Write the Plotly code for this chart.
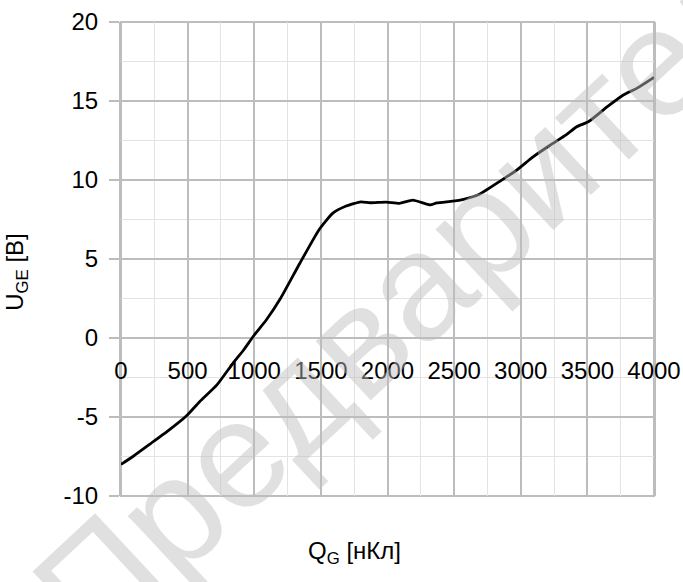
import plotly.graph_objects as go

# Gate charge curve Q_G [nC] -> U_GE [V]
charge_nc = [0, 90, 220, 345, 490, 590, 720, 840, 920, 1000, 1090, 1200, 1340, 1490,
             1590, 1690, 1800, 1870, 1990, 2090, 2190, 2320, 2370, 2490, 2570, 2690,
             2840, 2970, 3090, 3220, 3340, 3420, 3510, 3650, 3770, 3870, 4000]
voltage_v = [-8.0, -7.5, -6.7, -5.93, -4.94, -4.03, -2.97, -1.6, -0.76, 0.19, 1.14, 2.55,
             4.7, 6.9, 7.9, 8.35, 8.62, 8.56, 8.6, 8.52, 8.72, 8.42, 8.55, 8.66, 8.78,
             9.1, 9.9, 10.63, 11.45, 12.2, 12.85, 13.37, 13.7, 14.64, 15.38, 15.8, 16.5]

x_ticks = [0, 500, 1000, 1500, 2000, 2500, 3000, 3500, 4000]
y_ticks = [-10, -5, 0, 5, 10, 15, 20]

x_title = "Q<sub>G</sub> [нКл]"
y_title = "U<sub>GE</sub> [B]"
watermark = "Предварительный"

FONT = "Liberation Sans, Arial, sans-serif"
MAJOR = "#bdbdbd"
MINOR = "#e3e3e3"

fig = go.Figure()
fig.add_trace(go.Scatter(
    x=charge_nc, y=voltage_v, mode="lines",
    line=dict(color="black", width=2.8, shape="spline", smoothing=0.5),
    hoverinfo="skip", showlegend=False,
))

fig.update_layout(
    width=683, height=582,
    margin=dict(l=121, r=29, t=22, b=86, autoexpand=False),
    paper_bgcolor="white", plot_bgcolor="white",
    font=dict(family=FONT, color="black", size=24),
    showlegend=False,
    xaxis=dict(
        range=[0, 4000], tickvals=x_ticks, ticktext=[str(v) for v in x_ticks],
        showgrid=True, gridcolor=MAJOR, gridwidth=1.5,
        minor=dict(dtick=250, showgrid=True, gridcolor=MINOR, gridwidth=1),
        zeroline=False, showline=False, automargin=False,
        anchor="free", position=10 / 30,
        ticks="outside", ticklen=11, tickcolor=MAJOR, tickwidth=1.5,
        ticklabelstandoff=0, ticklabeloverflow="allow",
        tickfont=dict(family=FONT, size=24),
    ),
    yaxis=dict(
        range=[-10, 20], tickvals=y_ticks, ticktext=[str(v) for v in y_ticks],
        showgrid=True, gridcolor=MAJOR, gridwidth=1.5,
        minor=dict(dtick=2.5, showgrid=True, gridcolor=MINOR, gridwidth=1),
        zeroline=False, showline=True, linecolor=MAJOR, linewidth=2, mirror=True,
        automargin=False,
        ticks="outside", ticklen=10, tickcolor=MAJOR, tickwidth=1.5,
        ticklabelstandoff=6,
        tickfont=dict(family=FONT, size=24),
    ),
    shapes=[dict(type="rect", xref="paper", yref="paper", x0=0, x1=1, y0=0, y1=1,
                 line=dict(color=MAJOR, width=2), layer="below")],
    annotations=[
        dict(text=x_title, xref="paper", yref="paper", x=0.439, y=-0.12,
             xanchor="center", yanchor="middle", showarrow=False,
             font=dict(family=FONT, size=24)),
        dict(text=y_title, xref="paper", yref="paper", x=-0.195, y=0.473,
             xanchor="center", yanchor="middle", textangle=-90, showarrow=False,
             font=dict(family=FONT, size=24)),
        dict(text=watermark, xref="paper", yref="paper",
             x=(533 - 121) / 533, y=(496 - 175) / 474,
             xanchor="center", yanchor="middle", textangle=-43, showarrow=False,
             font=dict(family=FONT, size=153,
                       color="rgba(190,190,190,0.47)")),
    ],
)

fig.write_html("out.html")
